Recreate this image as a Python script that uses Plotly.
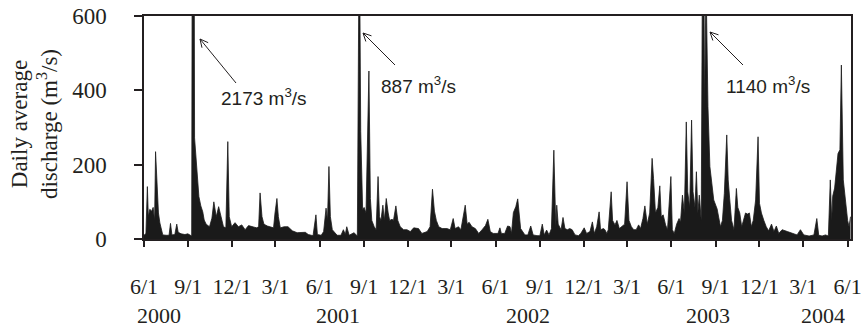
import math
import plotly.graph_objects as go

# ---- data (month-day per year, discharge m3/s) ----
md_2000 = ["06-01", "06-05", "06-08", "06-10", "06-13", "06-17", "06-20", "06-23", "06-25", "06-29",
           "07-01", "07-04", "07-07", "07-10", "07-17", "07-23", "07-26", "07-29", "08-04", "08-08",
           "08-11", "08-17", "08-25", "08-31", "09-08", "09-11", "09-14", "09-17", "09-20", "09-23",
           "09-27", "10-01", "10-04", "10-08", "10-15", "10-20", "10-24", "10-29", "11-03", "11-07",
           "11-13", "11-18", "11-22", "11-25", "11-30", "12-07", "12-14", "12-21", "12-28"]
q_2000 = [10, 15, 141, 60, 80, 75, 85, 50, 235, 137,
          70, 43, 25, 11, 10, 10, 42, 11, 12, 40,
          18, 14, 12, 14, 8, 2173, 272, 221, 164, 114,
          89, 73, 51, 40, 33, 56, 100, 60, 87, 65,
          33, 30, 262, 60, 33, 44, 33, 38, 25]

md_2001 = ["01-04", "01-14", "01-21", "01-25", "01-28", "02-01", "02-05", "02-12", "02-18", "02-25",
           "02-28", "03-04", "03-07", "03-11", "03-19", "03-27", "04-05", "04-15", "05-02", "05-08",
           "05-18", "05-24", "05-27", "06-04", "06-09", "06-14", "06-17", "06-20", "06-23", "06-27",
           "07-07", "07-15", "07-20", "07-24", "07-27", "08-01", "08-11", "08-18", "08-22", "08-25",
           "08-29", "09-01", "09-05", "09-11", "09-14", "09-17", "09-22", "09-26", "09-30", "10-03",
           "10-06", "10-10", "10-13", "10-17", "10-21", "10-24", "10-29", "11-01", "11-06", "11-10",
           "11-15", "11-22", "11-29", "12-06", "12-13", "12-23", "12-30"]
q_2001 = [36, 33, 30, 33, 124, 60, 40, 35, 33, 30,
          70, 109, 60, 30, 33, 33, 22, 17, 18, 12,
          9, 65, 12, 10, 20, 83, 50, 195, 60, 25,
          10, 10, 25, 12, 33, 10, 17, 8, 887, 289,
          78, 85, 70, 452, 109, 50, 33, 25, 168, 60,
          50, 91, 50, 109, 70, 50, 53, 50, 89, 50,
          33, 25, 25, 20, 30, 28, 15]

md_2002 = ["01-10", "01-16", "01-21", "01-25", "01-29", "02-03", "02-10", "02-20", "02-27", "03-05",
           "03-09", "03-16", "03-21", "03-30", "04-03", "04-07", "04-13", "04-20", "04-27", "05-04",
           "05-11", "05-16", "05-21", "05-27", "06-06", "06-10", "06-13", "06-20", "06-26", "07-01",
           "07-04", "07-08", "07-13", "07-17", "07-20", "07-23", "08-01", "08-07", "08-13", "08-18",
           "08-26", "09-01", "09-06", "09-10", "09-15", "09-20", "09-25", "09-28", "09-30", "10-04",
           "10-06", "10-09", "10-15", "10-19", "10-23", "10-28", "11-02", "11-07", "11-13", "11-20",
           "11-25", "12-02", "12-07", "12-14", "12-19", "12-23", "12-28"]
q_2002 = [20, 33, 134, 75, 50, 33, 28, 28, 25, 55,
          28, 33, 25, 91, 40, 45, 33, 28, 15, 25,
          36, 53, 20, 15, 15, 30, 15, 15, 35, 33,
          15, 71, 87, 108, 60, 28, 11, 11, 35, 11,
          9, 9, 40, 11, 24, 11, 28, 190, 239, 33,
          91, 40, 25, 58, 28, 25, 28, 25, 11, 9,
          15, 30, 15, 20, 46, 15, 33]

md_2003 = ["01-02", "01-05", "01-11", "01-14", "01-18", "01-21", "01-27", "01-30", "02-04", "02-08",
           "02-13", "02-18", "02-24", "03-01", "03-05", "03-10", "03-15", "03-20", "03-25", "03-29",
           "04-03", "04-07", "04-12", "04-17", "04-22", "04-25", "04-29", "05-04", "05-08", "05-11",
           "05-15", "05-20", "05-24", "05-31", "06-03", "06-07", "06-12", "06-17", "06-20", "06-24",
           "06-28", "07-02", "07-05", "07-09", "07-13", "07-16", "07-20", "07-23", "07-26", "07-29",
           "08-02", "08-06", "08-09", "08-12", "08-16", "08-20", "08-25", "08-28", "09-04", "09-07",
           "09-11", "09-15", "09-19", "09-24", "09-27", "09-30", "10-04", "10-09", "10-14", "10-17",
           "10-21", "10-25", "10-29", "11-02", "11-06", "11-10", "11-14", "11-18", "11-23", "11-28",
           "12-01", "12-05", "12-10", "12-15", "12-20", "12-26", "12-31"]
q_2003 = [73, 25, 28, 25, 15, 25, 127, 50, 38, 50,
          28, 33, 40, 154, 50, 33, 25, 25, 38, 28,
          55, 89, 40, 70, 217, 163, 70, 85, 143, 60,
          65, 38, 25, 168, 25, 15, 40, 55, 45, 118,
          70, 315, 127, 85, 320, 127, 85, 181, 70, 118,
          50, 1140, 350, 700, 356, 195, 140, 105, 81, 60,
          33, 50, 123, 280, 159, 110, 50, 25, 136, 85,
          70, 33, 50, 70, 67, 70, 33, 50, 105, 275,
          96, 70, 50, 33, 22, 40, 20]

md_2004 = ["01-05", "01-10", "01-17", "01-28", "02-07", "02-17", "02-24", "03-02", "03-13", "03-23",
           "03-29", "04-02", "04-09", "04-16", "04-22", "04-26", "04-29", "05-01", "05-05", "05-08",
           "05-12", "05-16", "05-19", "05-23", "05-27", "06-01", "06-04", "06-07"]
q_2004 = [35, 15, 25, 20, 15, 11, 25, 11, 8, 11,
          55, 10, 8, 11, 8, 159, 50, 115, 137, 170,
          230, 240, 468, 159, 105, 50, 33, 60]

years = [2000, 2001, 2002, 2003, 2004]
month_days = [md_2000, md_2001, md_2002, md_2003, md_2004]
values = [q_2000, q_2001, q_2002, q_2003, q_2004]

tick_dates = ["2000-06-01", "2000-09-01", "2000-12-01", "2001-03-01", "2001-06-01",
              "2001-09-01", "2001-12-01", "2002-03-01", "2002-06-01", "2002-09-01",
              "2002-12-01", "2003-03-01", "2003-06-01", "2003-09-01", "2003-12-01",
              "2004-03-01", "2004-06-01"]
tick_text = ["6/1", "9/1", "12/1", "3/1", "6/1", "9/1", "12/1", "3/1", "6/1", "9/1",
             "12/1", "3/1", "6/1", "9/1", "12/1", "3/1", "6/1"]
year_labels = ["2000", "2001", "2002", "2003", "2004"]
y_ticks = [0, 200, 400, 600]
peak_values = [2173, 887, 1140]

# ---- build series ----
dates, q = [], []
for yr, mds, qs in zip(years, month_days, values):
    assert len(mds) == len(qs), yr
    dates += [f"{yr}-{m}" for m in mds]
    q += qs

serif = "Liberation Serif, Times New Roman, serif"
sans = "Liberation Sans, Arial, sans-serif"
ink = "#1a1a1a"
txt = "#231f20"

fig = go.Figure()
fig.add_trace(go.Scatter(
    x=dates, y=q, mode="lines", line=dict(color=ink, width=0.8),
    fill="tozeroy", fillcolor=ink, hoverinfo="x+y", showlegend=False))

fig.update_layout(
    width=861, height=331,
    margin=dict(l=144, r=10, t=16, b=92, autoexpand=False),
    paper_bgcolor="white", plot_bgcolor="white",
    font=dict(family=serif, size=22, color=txt),
)
fig.update_xaxes(
    type="date", range=["2000-06-01", "2004-06-08"], automargin=False,
    tickmode="array", tickvals=tick_dates, ticktext=tick_text,
    ticks="outside", ticklen=6, tickwidth=1.5, tickcolor=txt,
    showline=True, linewidth=1.5, linecolor=txt, mirror=True,
    showgrid=False, zeroline=False, ticklabelstandoff=21,
    ticklabeloverflow="allow",
    tickfont=dict(family=serif, size=22, color=txt),
)
fig.update_yaxes(
    range=[0, 600], tickmode="array", tickvals=y_ticks, automargin=False,
    ticks="outside", ticklen=8, tickwidth=1.5, tickcolor=txt,
    showline=True, linewidth=1.5, linecolor=txt, mirror=True,
    showgrid=False, zeroline=False, ticklabelstandoff=23,
    ticklabeloverflow="allow",
    tickfont=dict(family=serif, size=23, color=txt),
)

annotations = []
# y-axis title
annotations.append(dict(
    text="Daily average<br>discharge (m<sup>3</sup>/s)", textangle=-90,
    xref="paper", yref="paper", x=-0.154, y=0.516, xanchor="center", yanchor="middle",
    showarrow=False, font=dict(family=serif, size=23, color=txt)))
# year labels under the tick labels
year_x = [0.021, 0.274, 0.543, 0.798, 0.960]
for lbl, xp in zip(year_labels, year_x):
    annotations.append(dict(text=lbl, xref="paper", yref="paper", x=xp, y=-0.345,
                            xanchor="center", yanchor="middle", showarrow=False,
                            font=dict(family=serif, size=22, color=txt)))
# peak labels
label_pos = [(0.170, 0.637), (0.388, 0.691), (0.883, 0.691)]
for (lx, ly), pv in zip(label_pos, peak_values):
    annotations.append(dict(text=f"{pv} m<sup>3</sup>/s", xref="paper", yref="paper",
                            x=lx, y=ly, xanchor="center", yanchor="middle", showarrow=False,
                            font=dict(family=sans, size=19, color=txt)))
fig.update_layout(annotations=annotations)

# peak arrows drawn as line shapes (head / tail positions in figure pixels)
arrow_px = [((200, 39), (236, 83)), ((363, 33), (395, 65)), ((710, 32), (743, 65))]
L, T, W, H = 144, 16, 707, 223


def to_paper(px, py):
    return (px - L) / W, (T + H - py) / H


for (hx, hy), (tx, ty) in arrow_px:
    dx, dy = hx - tx, hy - ty
    n = math.hypot(dx, dy)
    ux, uy = dx / n, dy / n
    back, half = 8.0, 4.0
    w1 = (hx - back * ux - half * uy, hy - back * uy + half * ux)
    w2 = (hx - back * ux + half * uy, hy - back * uy - half * ux)
    x0, y0 = to_paper(tx, ty)
    x1, y1 = to_paper(hx, hy)
    a0, b0 = to_paper(*w1)
    a1, b1 = to_paper(*w2)
    line = dict(color=txt, width=1)
    fig.add_shape(type="line", xref="paper", yref="paper", x0=x0, y0=y0, x1=x1, y1=y1, line=line)
    fig.add_shape(type="line", xref="paper", yref="paper", x0=a0, y0=b0, x1=x1, y1=y1, line=line)
    fig.add_shape(type="line", xref="paper", yref="paper", x0=a1, y0=b1, x1=x1, y1=y1, line=line)

fig.write_html("out.html", config={"displayModeBar": False},
               post_script="document.body.style.margin='0';document.body.style.overflow='hidden';")
